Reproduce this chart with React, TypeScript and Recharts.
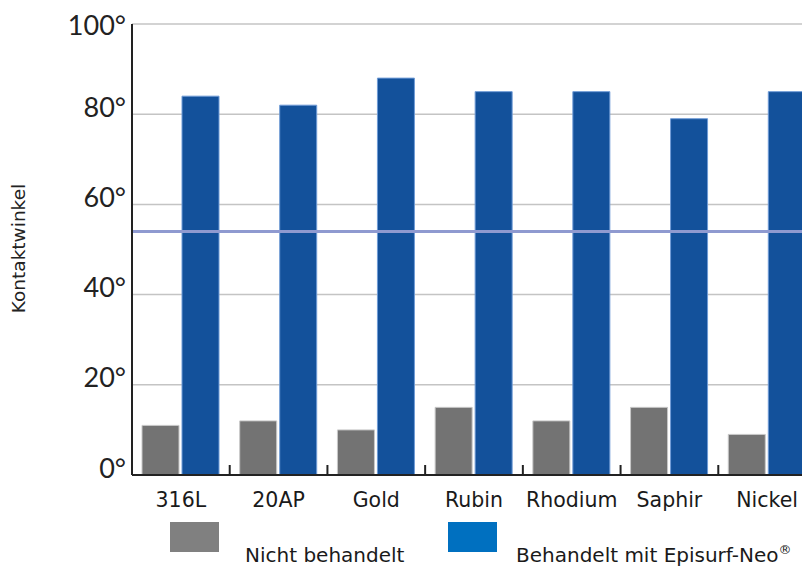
import { BarChart, Bar, XAxis, YAxis, CartesianGrid, ReferenceLine, Legend } from 'recharts';

const categories = ['316L', '20AP', 'Gold', 'Rubin', 'Rhodium', 'Saphir', 'Nickel'];
const untreated = [11, 12, 10, 15, 12, 15, 9];
const treated = [84, 82, 88, 85, 85, 79, 85];
const yTicks = [0, 20, 40, 60, 80, 100];
const threshold = 54;

const data = categories.map((name, i) => ({
  name,
  untreated: untreated[i],
  treated: treated[i],
}));

const W = 812;
const H = 559;
const PLOT_W = W - 124 - 4;
const BAND = PLOT_W / categories.length;

const YTick = ({ x, y, payload }: any) => (
  <text
    x={x}
    y={y}
    dy={payload.value === 100 ? 0 : -8}
    textAnchor="end"
    dominantBaseline="central"
    fill="#222"
    fontFamily="Lato"
    fontSize={27}
  >
    {`${payload.value}°`}
  </text>
);

// label under the band + a small upward tick on the boundary to its left
const XTick = ({ x, y, index, payload }: any) => {
  const bx = x - BAND / 2;
  return (
    <g>
      {index > 0 && <line x1={bx} x2={bx} y1={y} y2={y - 10} stroke="#222" strokeWidth={2} />}
      <text
        x={x}
        y={y + 24.5}
        textAnchor="middle"
        dominantBaseline="central"
        fill="#1a1a1a"
        fontFamily="DejaVu Sans"
        fontSize={20.5}
      >
        {payload.value}
      </text>
    </g>
  );
};

const YLabel = ({ viewBox }: any) => {
  const cy = viewBox.y + viewBox.height / 2 - 1;
  return (
    <text
      x={10.5}
      y={cy}
      transform={`rotate(-90 10.5 ${cy})`}
      textAnchor="middle"
      dominantBaseline="central"
      fill="#222"
      fontFamily="DejaVu Sans"
      fontSize={18.5}
    >
      Kontaktwinkel
    </text>
  );
};

const LegendBox = () => (
  <div style={{ position: 'relative', width: W, height: 45, fontFamily: 'DejaVu Sans', fontSize: 20, lineHeight: 'normal', color: '#1a1a1a' }}>
    <div style={{ position: 'absolute', left: 162, top: 0, width: 49, height: 30, background: '#808080' }} />
    <div style={{ position: 'absolute', left: 237, top: 21, whiteSpace: 'nowrap' }}>Nicht behandelt</div>
    <div style={{ position: 'absolute', left: 440, top: 0, width: 49, height: 30, background: '#0070C0' }} />
    <div style={{ position: 'absolute', left: 508, top: 21, whiteSpace: 'nowrap' }}>
      Behandelt mit Episurf-Neo<sup style={{ fontSize: 13, lineHeight: 0 }}>®</sup>
    </div>
  </div>
);

export default function App() {
  return (
    <div style={{ width: 802, height: H, overflow: 'hidden' }}>
      <BarChart
        width={W}
        height={H}
        data={data}
        margin={{ top: 16, right: 4, left: 0, bottom: 0 }}
        barSize={37}
        barGap={3}
      >
        <CartesianGrid horizontal vertical={false} stroke="#c4c4c4" strokeWidth={1.5} />
        <XAxis
          dataKey="name"
          height={47}
          axisLine={{ stroke: '#222', strokeWidth: 2 }}
          tickLine={false}
          tickSize={0}
          tickMargin={0}
          tick={<XTick />}
          interval={0}
        />
        <YAxis
          width={124}
          domain={[0, 100]}
          ticks={yTicks}
          axisLine={{ stroke: '#222', strokeWidth: 2 }}
          tickLine={false}
          tickMargin={0}
          tick={<YTick />}
          label={<YLabel />}
        />
        <Bar dataKey="untreated" fill="#737373" stroke="#c8c8c8" strokeWidth={1} isAnimationActive={false} />
        <Bar dataKey="treated" fill="#13519B" stroke="#6f9bd6" strokeWidth={1} isAnimationActive={false} />
        <ReferenceLine y={threshold} stroke="#8f9ad0" strokeWidth={3} />
        <Legend content={<LegendBox />} verticalAlign="bottom" wrapperStyle={{ left: 0, bottom: 0, width: W }} />
      </BarChart>
    </div>
  );
}
